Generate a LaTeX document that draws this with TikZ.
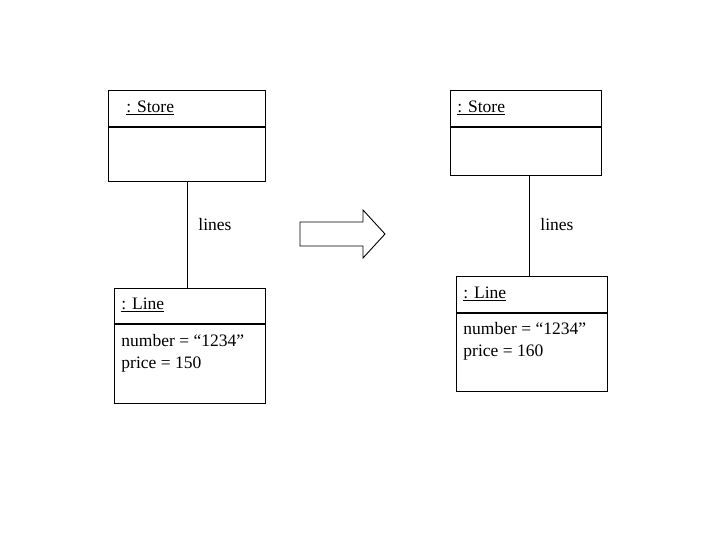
\documentclass[tikz,border=0pt]{standalone}
\usepackage{fontspec}
\setmainfont{Liberation Serif}
\usetikzlibrary{positioning, calc}
\frenchspacing

\begin{document}
\begin{tikzpicture}[
    x=1pt, y=-1pt,
    every node/.style={font=\fontsize{17.5pt}{22pt}\selectfont},
    head/.style={draw, rectangle, anchor=north west, inner xsep=7pt, inner ysep=0pt, text width=#1, align=left},
    body/.style={draw, rectangle, anchor=north west, inner sep=0pt},
    attr/.style={anchor=north west, inner sep=0pt, align=left},
    link/.style={line width=0.9pt},
    line width=0.9pt
]
\useasboundingbox (0,0) rectangle (720,540);

% before
\node[head=143pt, minimum height=36pt] (storeA) at (108,90) {\hspace*{11pt}\underline{: Store}\vphantom{g}};
\node[body, minimum width=157pt, minimum height=54pt] (storeAbody) at (storeA.south west) {};
\node[head=137pt, minimum height=35pt] (lineA) at (114,288) {\underline{: Line}\vphantom{g}};
\node[body, minimum width=151pt, minimum height=79pt] (lineAbody) at (lineA.south west) {};
\node[attr] (lineAattr) at ($(lineAbody.north west)+(7,10)$) {number = “1234”\\price = 150};
\draw[link] (storeAbody.south) -- (storeAbody.south |- lineA.north);
\node (linesA) at (215,225) {lines};

% change
\draw (300,222) -- (363,222) -- (363,210) -- (385,234) -- (363,258) -- (363,246) -- (300,246) -- cycle;

% after
\node[head=137pt, minimum height=36pt] (storeB) at (450,90) {\underline{: Store}\vphantom{g}};
\node[body, minimum width=151pt, minimum height=48pt] (storeBbody) at (storeB.south west) {};
\node[head=137pt, minimum height=36pt] (lineB) at (456,276) {\underline{: Line}\vphantom{g}};
\node[body, minimum width=151pt, minimum height=78pt] (lineBbody) at (lineB.south west) {};
\node[attr] (lineBattr) at ($(lineBbody.north west)+(7,9)$) {number = “1234”\\price = 160};
\draw[link] ([xshift=3.5pt]storeBbody.south) -- ([xshift=3.5pt]storeBbody.south |- lineB.north);
\node (linesB) at (557,225) {lines};
\end{tikzpicture}
\end{document}
